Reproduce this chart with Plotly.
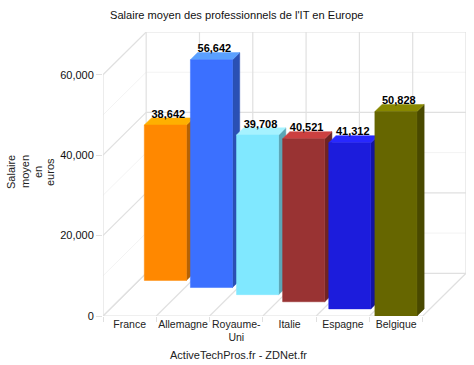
import plotly.graph_objects as go

title = "Salaire moyen des professionnels de l'IT en Europe"
source = "ActiveTechPros.fr - ZDNet.fr"
categories = ["France", "Allemagne", "Royaume-<br>Uni", "Italie", "Espagne", "Belgique"]
values = [38642, 56642, 39708, 40521, 41312, 50828]
y_title_lines = ["Salaire", "moyen", "en", "euros"]
y_ticks = [0, 20000, 40000, 60000]
y_minor = [10000, 30000, 50000]
front_colors = ["#FF8800", "#3B70FF", "#80E8FF", "#993333", "#1C1CDC", "#666600"]
side_colors = ["#B86200", "#2A50B4", "#5BA6B6", "#6E2424", "#14149E", "#494900"]
top_colors = ["#FFB000", "#5AA0FF", "#A6F2FF", "#CC4040", "#2828FF", "#888800"]

DX, DY = 0.135, 1770          # one depth step in data units
N = len(categories)
XMAX, YMAX = N + N * DX, 60000 + N * DY
GRID, FAINT = "#E0E0E0", "#F3F3F3"
FONT = "Liberation Sans, Arial, sans-serif"
BAR_L, BAR_W = 0.10, 0.79


def proj(x, v, d):
    return x + d * DX, v + d * DY


fig = go.Figure()


def lines(segments, color, width=1):
    xs, ys = [], []
    for (x0, y0), (x1, y1) in segments:
        xs += [x0, x1, None]
        ys += [y0, y1, None]
    fig.add_trace(go.Scatter(x=xs, y=ys, mode="lines", line=dict(color=color, width=width),
                             hoverinfo="skip", showlegend=False, cliponaxis=False))


def poly(points, color):
    fig.add_trace(go.Scatter(x=[p[0] for p in points] + [points[0][0]],
                             y=[p[1] for p in points] + [points[0][1]],
                             mode="lines", fill="toself", fillcolor=color,
                             line=dict(color=color, width=0.5),
                             hoverinfo="skip", showlegend=False, cliponaxis=False))


# faint half-step grid
lines([(proj(0, v, 0), proj(0, v, N)) for v in y_minor] +
      [(proj(0, v, N), proj(N, v, N)) for v in y_minor], FAINT)
# walls and floor grid
seg = []
for v in y_ticks:
    seg += [(proj(0, v, 0), proj(0, v, N)), (proj(0, v, N), proj(N, v, N))]
for i in range(N + 1):
    seg += [(proj(i, 0, 0), proj(i, 0, N)), (proj(i, 0, N), proj(i, 60000, N))]
seg += [((0, 0), (0, 60000)), ((0, 0), (N, 0))]
lines(seg, GRID, 1.2)

# staggered bars, rear (first) to front (last)
for i, v in enumerate(values):
    d = N - 1 - i
    l, r = i + BAR_L, i + BAR_L + BAR_W
    poly([proj(r, 0, d), proj(r, 0, d + 1), proj(r, v, d + 1), proj(r, v, d)], side_colors[i])
    poly([proj(l, v, d), proj(r, v, d), proj(r, v, d + 1), proj(l, v, d + 1)], top_colors[i])
    poly([proj(l, 0, d), proj(r, 0, d), proj(r, v, d), proj(l, v, d)], front_colors[i])

# value labels
lx, ly = [], []
for i, v in enumerate(values):
    px, py = proj(i + BAR_L + BAR_W / 2, v, N - 1 - i + 1)
    lx.append(px - 0.08)
    ly.append(py - 600)
fig.add_trace(go.Scatter(x=lx, y=ly, mode="text", text=[f"{v:,}" for v in values],
                         textposition="top center",
                         textfont=dict(family=FONT, size=11, color="#000000", weight="bold"),
                         hoverinfo="skip", showlegend=False, cliponaxis=False))

annotations = [
    dict(text=title, xref="paper", yref="paper", x=(237 - 103) / 363, y=(316 - 15) / 284,
         xanchor="center", yanchor="middle", showarrow=False,
         font=dict(size=11.1, color="#111111")),
    dict(text=source, xref="paper", yref="paper", x=(238 - 103) / 363, y=(316 - 355) / 284,
         xanchor="center", yanchor="middle", showarrow=False,
         font=dict(size=11, color="#222222")),
]
for line, px in zip(y_title_lines, [11, 25, 38, 50]):
    annotations.append(dict(text=line, xref="paper", yref="paper",
                            x=(px - 103) / 363, y=(316 - 172) / 284,
                            xanchor="center", yanchor="middle", textangle=-90,
                            showarrow=False, font=dict(size=11, color="#222222")))

fig.update_layout(
    width=474, height=365, autosize=False,
    margin=dict(l=103, r=8, t=32, b=49, pad=0),
    paper_bgcolor="#FFFFFF", plot_bgcolor="#FFFFFF",
    font=dict(family=FONT, size=12, color="#222222"),
    showlegend=False,
    xaxis=dict(range=[0, XMAX], showgrid=False, zeroline=False, showline=False,
               tickmode="array", tickvals=[i + 0.5 for i in range(N)], ticktext=categories,
               ticks="", tickfont=dict(size=10.5, color="#222222"), tickangle=0,
               minor=dict(tickmode="array", tickvals=list(range(N + 1)), ticks="outside",
                          ticklen=5, tickcolor=GRID, tickwidth=1, showgrid=False)),
    yaxis=dict(range=[0, YMAX], showgrid=False, zeroline=False, showline=False,
               tickmode="array", tickvals=y_ticks, tickformat=",", ticks="outside",
               ticklen=6, tickcolor=GRID, tickwidth=1,
               tickfont=dict(size=11, color="#111111")),
    annotations=annotations,
)

fig.write_html("out.html", config={"displayModeBar": False},
               post_script="document.body.style.margin='0';")
